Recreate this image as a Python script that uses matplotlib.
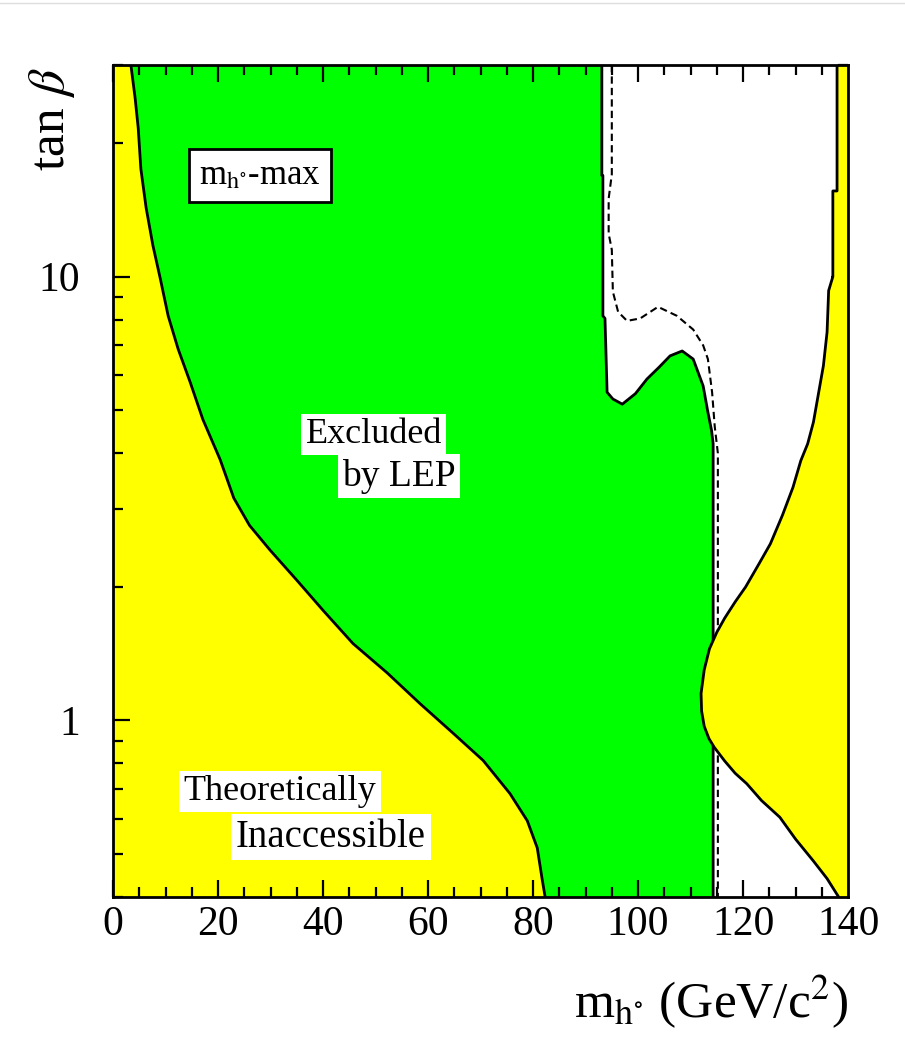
import matplotlib
matplotlib.use('Agg')
import matplotlib.pyplot as plt
from matplotlib.lines import Line2D
from matplotlib.ticker import FixedLocator, MultipleLocator, NullFormatter, FuncFormatter

plt.rcParams['font.family'] = ['Liberation Serif', 'DejaVu Serif']
plt.rcParams['mathtext.fontset'] = 'stix'

# lower theoretical limit (left yellow area), top to bottom
low_m = [3.4, 4.2, 4.8, 5.3, 6.3, 7.6, 9.0, 10.5, 12.4, 14.7, 17.1, 20.4, 23.0, 26.0,
         29.9, 35.0, 40.0, 45.7, 52.2, 58.5, 64.8, 70.5, 75.6, 78.9, 80.8, 81.7, 82.3]
low_tb = [30, 25.3, 21.6, 17.5, 14.3, 11.75, 9.9, 8.16, 6.87, 5.78, 4.77, 3.87, 3.17, 2.75,
          2.42, 2.07, 1.77, 1.49, 1.28, 1.09, 0.935, 0.812, 0.684, 0.594, 0.516, 0.441, 0.40]

# observed LEP exclusion boundary, top to bottom
obs_m = [93.1, 93.1, 93.3, 93.3, 93.7, 94.1, 95.2, 97.0, 99.5, 101.7, 104.0, 106.1,
         108.4, 110.5, 112.4, 113.3, 114.0, 114.3, 114.3]
obs_tb = [30, 16.9, 16.9, 8.16, 8.05, 5.49, 5.30, 5.16, 5.45, 5.88, 6.25, 6.63,
          6.80, 6.52, 5.67, 4.95, 4.5, 4.2, 0.4]

# expected LEP exclusion (dashed), top to bottom
exp_m = [95.0, 95.0, 94.4, 94.4, 95.0, 95.2, 96.2, 97.9, 100.4, 103.8, 107.4, 110.5,
         112.4, 113.3, 114.1, 114.6, 115.2, 115.2]
exp_tb = [30, 17.0, 15.0, 12.5, 11.5, 9.25, 8.33, 7.95, 8.05, 8.55, 8.16, 7.6,
          7.0, 6.52, 5.49, 4.6, 4.0, 0.4]

# upper theoretical limit (right yellow area), top to bottom
high_m = [137.9, 137.9, 137.1, 137.1, 136.3, 136.0, 135.3, 134.3, 133.4, 132.3, 131.0,
          129.5, 127.5, 125.2, 123.0, 120.5, 118.5, 116.5, 115.0, 113.6, 112.6, 112.0,
          112.1, 112.6, 113.5, 114.5, 116.5, 118.5, 120.7, 123.5, 127.0, 130.0, 133.4,
          136.0, 138.2]
high_tb = [30, 15.6, 15.6, 10, 9.3, 7.5, 6.3, 5.4, 4.7, 4.2, 3.85,
           3.35, 2.9, 2.5, 2.25, 2.0, 1.85, 1.70, 1.58, 1.45, 1.3, 1.15,
           1.05, 0.97, 0.91, 0.87, 0.81, 0.76, 0.72, 0.66, 0.605, 0.54, 0.482,
           0.44, 0.40]

m_lim = (0, 140)
tb_lim = (0.4, 30)
x_major = 20
x_minor = 5
y_major = [1, 10]
y_minor = [0.4, 0.5, 0.6, 0.7, 0.8, 0.9, 2, 3, 4, 5, 6, 7, 8, 9, 20, 30]

green = '#00ff00'
yellow = '#ffff00'

fig = plt.figure(figsize=(9.05, 10.39), dpi=100)
fig.add_artist(Line2D([0, 1], [0.997, 0.997], color='#dddddd', lw=1))
ax = fig.add_axes([0.1249, 0.1367, 0.8122, 0.8008])
ax.set_yscale('log')

# regions
ax.fill([m_lim[0]] + low_m + [m_lim[0]], [tb_lim[1]] + low_tb + [tb_lim[0]],
        color=yellow, lw=0, zorder=1)
ax.fill(low_m + obs_m[::-1], low_tb + obs_tb[::-1], color=green, lw=0, zorder=1)
ax.plot(low_m, low_tb, color='k', lw=2, zorder=2)
ax.plot(obs_m, obs_tb, color='k', lw=2, zorder=2)
ax.plot(exp_m, exp_tb, color='k', lw=1.5, dashes=(3.5, 2), zorder=2)
ax.fill(high_m + [m_lim[1], m_lim[1]], high_tb + [tb_lim[0], tb_lim[1]],
        color=yellow, lw=0, zorder=3)
ax.plot(high_m, high_tb, color='k', lw=2, zorder=3.5)

ax.set_xlim(*m_lim)
ax.set_ylim(*tb_lim)

ax.xaxis.set_major_locator(MultipleLocator(x_major))
ax.xaxis.set_minor_locator(MultipleLocator(x_minor))
ax.yaxis.set_major_locator(FixedLocator(y_major))
ax.yaxis.set_minor_locator(FixedLocator(y_minor))
ax.yaxis.set_major_formatter(FuncFormatter(lambda v, p: f'{v:g}'))
ax.yaxis.set_minor_formatter(NullFormatter())

ax.tick_params(which='both', direction='in', top=True, right=True, width=1.6, labelsize=30)
ax.tick_params(which='major', length=12)
ax.tick_params(which='minor', length=7)
ax.tick_params(axis='x', pad=6)
ax.tick_params(axis='y', pad=24)
for s in ax.spines.values():
    s.set_linewidth(2)
    s.set_zorder(5)

# axis titles
ax.text(1.0, -0.146, r'm$_{\rm h^{\circ}}$ (GeV/c$^{2}$)', transform=ax.transAxes,
        ha='right', va='baseline', fontsize=37)
ax.text(-0.083, 0.998, r'tan $\beta$', transform=ax.transAxes, rotation=90,
        ha='center', va='top', fontsize=37)

# region labels
ax.text(28, 16.9, r'm$_{\rm h^{\circ}}$-max', ha='center', va='center', fontsize=25, zorder=6,
        bbox=dict(boxstyle='square,pad=0.3', facecolor='white', edgecolor='black', lw=2))
white_box = dict(boxstyle='square,pad=0.12', facecolor='white', edgecolor='none')
ax.text(49.7, 4.41, 'Excluded', ha='center', va='center', fontsize=26, zorder=6, bbox=white_box)
ax.text(54.5, 3.55, 'by LEP', ha='center', va='center', fontsize=27, zorder=6, bbox=white_box)
ax.text(31.8, 0.691, 'Theoretically', ha='center', va='center', fontsize=26, zorder=6,
        bbox=white_box)
ax.text(41.5, 0.546, 'Inaccessible', ha='center', va='center', fontsize=28, zorder=6,
        bbox=white_box)

fig.savefig('out.png', dpi=100, facecolor='white')
